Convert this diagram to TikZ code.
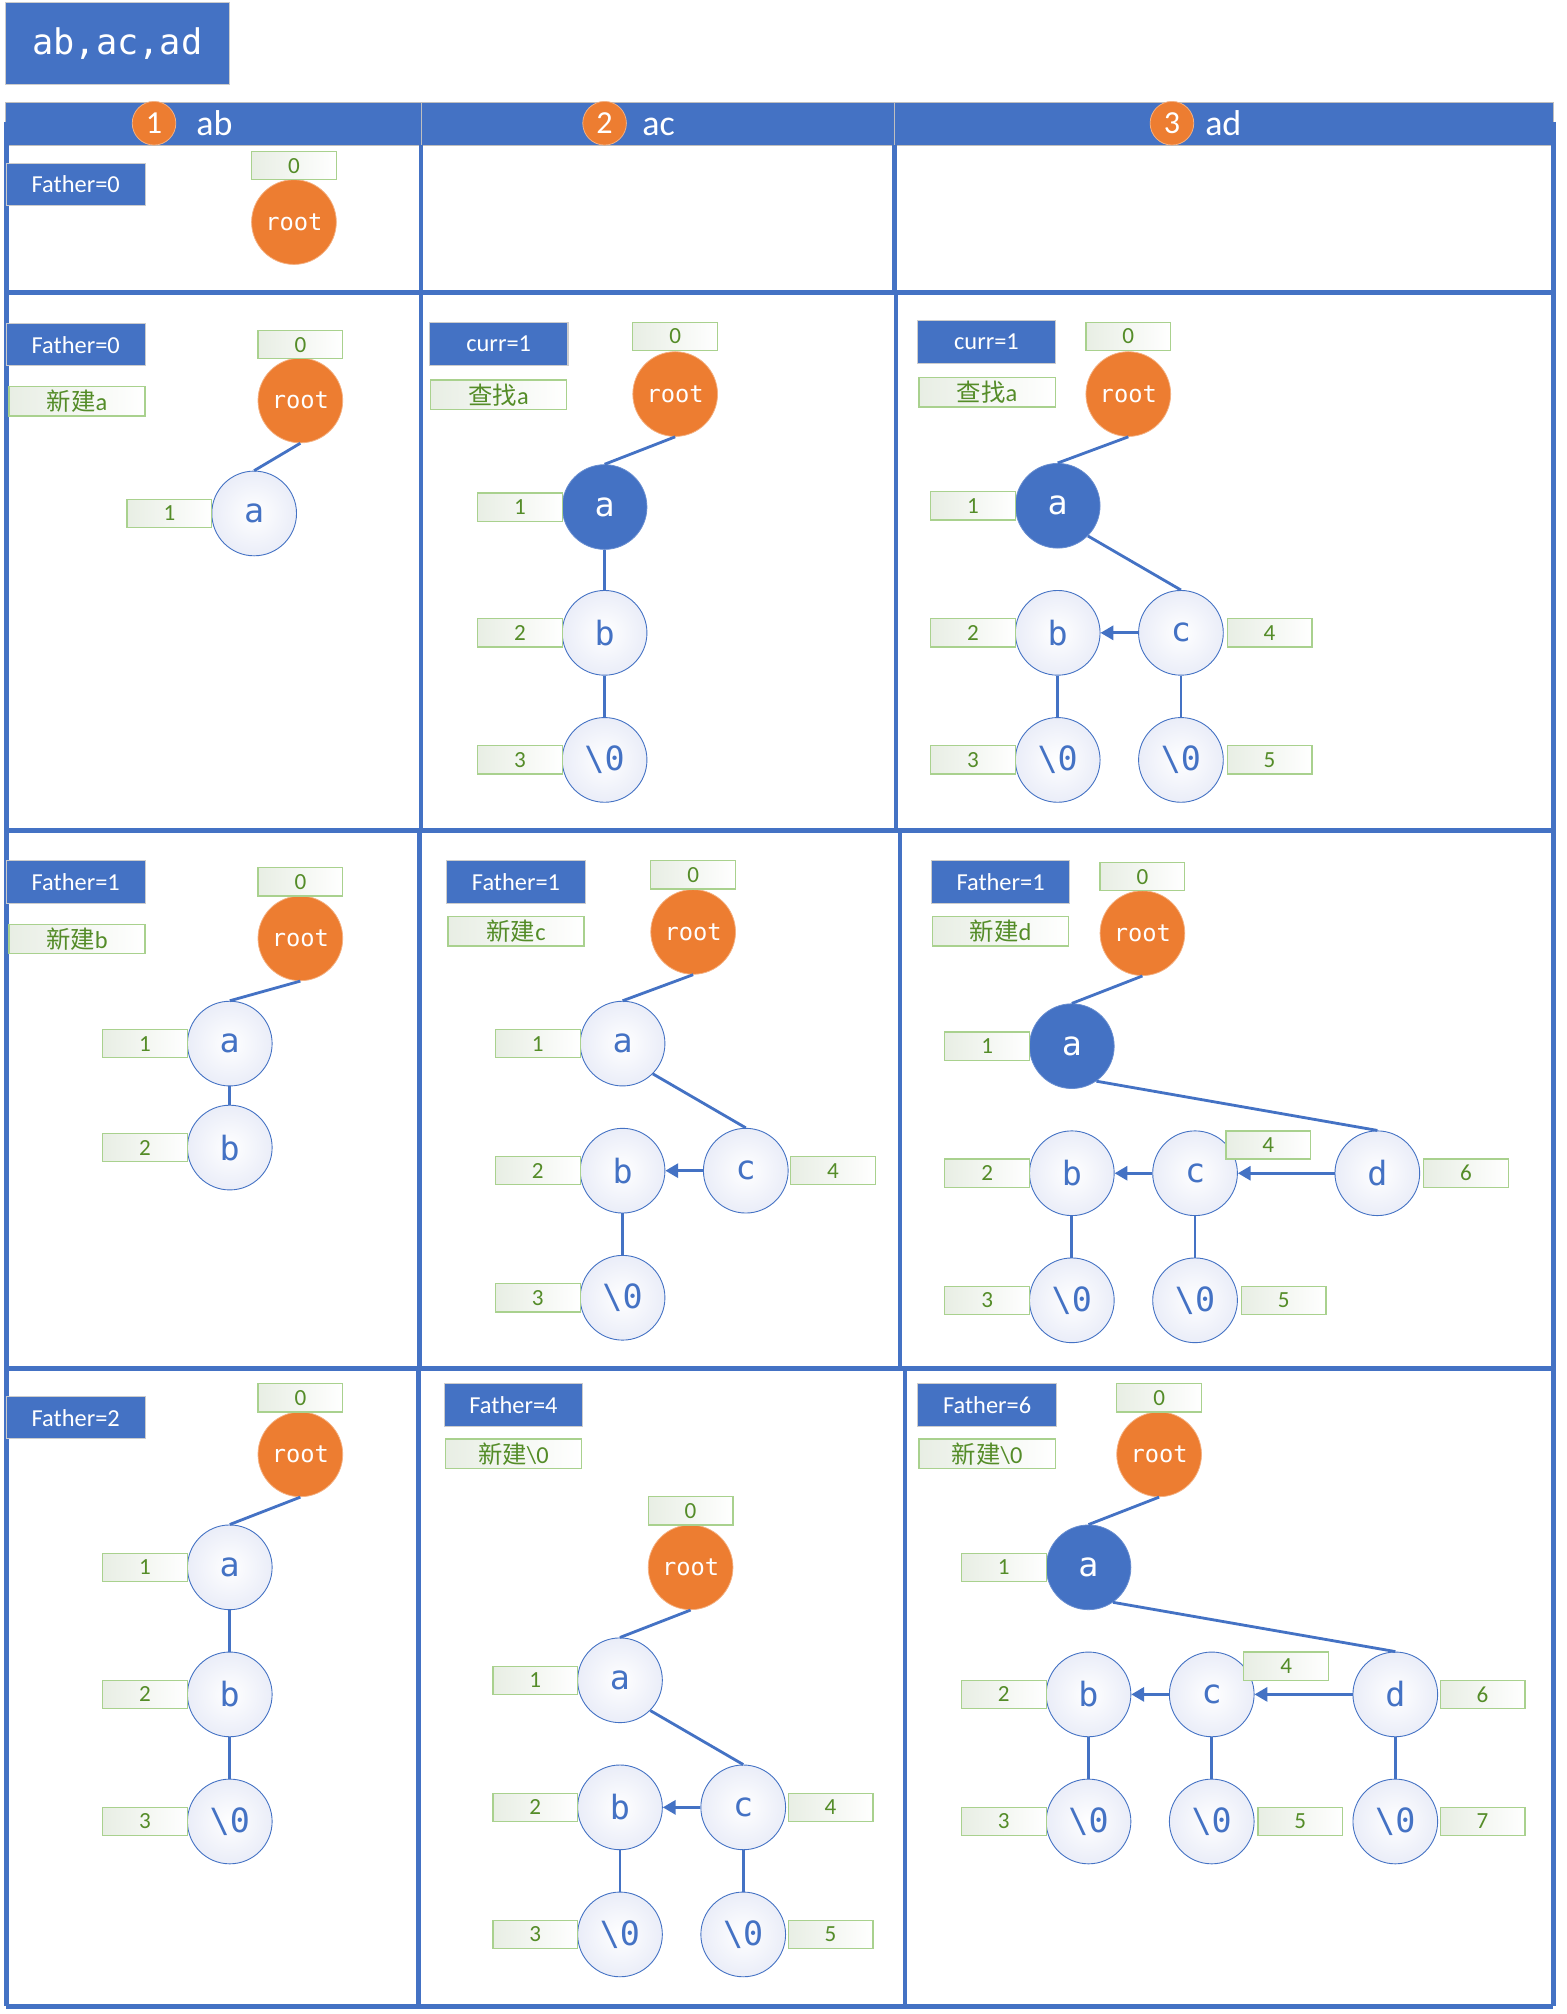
\documentclass[tikz,border=0pt]{standalone}
\usepackage{fontspec}
\setmainfont{Carlito}
\newfontfamily\monof{DejaVu Sans Mono}
\newfontfamily\cjk{Noto Sans CJK SC}
\usetikzlibrary{arrows.meta,shapes.geometric}
\definecolor{myblue}{RGB}{68,114,196}
\definecolor{myorange}{RGB}{237,125,49}
\definecolor{mygreen}{RGB}{84,140,40}
\definecolor{gline}{RGB}{169,209,142}
\definecolor{gfill}{RGB}{232,238,228}
\definecolor{nfill}{RGB}{234,237,248}
\tikzset{
  bbox/.style={rectangle,fill=myblue,draw=black!20,line width=0.8,text=white,minimum width=108,minimum height=33,inner sep=0,font=\fontsize{19}{21}\selectfont},
  gbox/.style={rectangle,left color=gfill,right color=white,draw=gline,line width=1,text=mygreen,minimum width=66,minimum height=22,inner sep=0,font=\fontsize{18}{20}\selectfont},
  cbox/.style={gbox,minimum width=106,minimum height=23,font=\fontsize{19}{21}\selectfont},
  rootn/.style={circle,fill=myorange,draw=myorange!60!white,line width=0.6,minimum size=66,inner sep=0,text=white,font=\monof\fontsize{18.5}{20}\selectfont},
  wn/.style={circle,inner color=white,outer color=nfill,draw=myblue,line width=0.7,minimum size=66,inner sep=0,text=myblue,font=\monof\fontsize{26}{28}\selectfont},
  bn/.style={circle,fill=myblue,draw=myblue!80!white,line width=0.6,minimum size=66,inner sep=0,text=white,font=\monof\fontsize{26}{28}\selectfont},
  edge/.style={draw=myblue,line width=2.2},
  arr/.style={edge,-{Triangle[length=10,width=11]}},
  grid/.style={draw=myblue,line width=3.6},
  hcirc/.style={circle,fill=myorange,draw=myorange!60!white,line width=0.6,minimum size=34,inner sep=0,text=white,font=\fontsize{25}{27}\selectfont},
  htext/.style={text=white,font=\fontsize{28}{30}\selectfont,inner sep=0,anchor=base},
}
\newcommand\zero{\textbackslash 0}
\begin{document}
\begin{tikzpicture}[x=1pt,y=-1pt]
\useasboundingbox (0,0) rectangle (1220,1569);
% title
\node[rectangle,fill=myblue,draw=black!20,line width=0.8,minimum width=175,minimum height=64,inner sep=0,text=white,font=\monof\fontsize{27.5}{29}\selectfont] (title) at (91.5,34) {ab,ac,ad};
% header
\fill[myblue] (4,80) rectangle (1210,113);
\draw[black!25,line width=0.8] (4,80) rectangle (1210,113);
\draw[black!25,line width=0.8] (328,80) -- (328,113);
\draw[black!25,line width=0.8] (697,80) -- (697,113);
\node[hcirc] (h1) at (120,96) {1};
\node[htext] (h1t) at (167,105.5) {ab};
\node[hcirc] (h2) at (471,96) {2};
\node[htext] (h2t) at (513,105.5) {ac};
\node[hcirc] (h3) at (913,96) {3};
\node[htext] (h3t) at (953,105.5) {ad};
% grid
\draw[grid] (5,95) -- (5,1563);
\draw[grid] (1210,95) -- (1210,1563);
\draw[grid] (5,228) -- (1210,228);
\draw[grid] (5,647) -- (1210,647);
\draw[grid] (5,1066) -- (1210,1066);
\draw[grid] (5,1563) -- (1210,1563);
\draw[grid] (328,113) -- (328,228);
\draw[grid] (697,113) -- (697,228);
\draw[grid] (328,228) -- (328,647);
\draw[grid] (698,228) -- (698,647);
\draw[grid] (327,647) -- (327,1066);
\draw[grid] (701,647) -- (701,1066);
\draw[grid] (326,1066) -- (326,1563);
\draw[grid] (705,1066) -- (705,1563);

% ===== Row 1, col 1
\node[bbox] (f11) at (59,143.5) {Father=0};
\node[rootn] (r11) at (229,173) {root};
\node[gbox] (n11r) at (229,129) {0};

% ===== Row 2, col 1
\node[bbox] (f21) at (59,268.5) {Father=0};
\node[cbox] (t21) at (60,312.5) {{\cjk 新建}a};
\node[rootn] (r21) at (234,312) {root};
\node[gbox] (n21r) at (234,268.5) {0};
\node[wn] (a21) at (198,400) {a};
\node[gbox] (n21a) at (132,400) {1};
\draw[edge] (r21.south) -- (a21.north);

% ===== Row 2, col 2
\node[bbox] (f22) at (388.5,268) {curr=1};
\node[cbox] (t22) at (388.5,307.5) {{\cjk 查找}a};
\node[rootn] (r22) at (526,307) {root};
\node[gbox] (n22r) at (526,262) {0};
\node[bn] (a22) at (471,395) {a};
\node[gbox] (n22a) at (405,395) {1};
\node[wn] (b22) at (471,493) {b};
\node[gbox] (n22b) at (405,493) {2};
\node[wn] (z22) at (471,592) {\zero};
\node[gbox] (n22z) at (405,592) {3};
\draw[edge] (r22.south) -- (a22.north);
\draw[edge] (a22.south) -- (b22.north);
\draw[edge] (b22.south) -- (z22.north);

% ===== Row 2, col 3
\node[bbox] (f23) at (768.5,266.5) {curr=1};
\node[cbox] (t23) at (769,305.5) {{\cjk 查找}a};
\node[rootn] (r23) at (879,307) {root};
\node[gbox] (n23r) at (879,262) {0};
\node[bn] (a23) at (824,394) {a};
\node[gbox] (n23a) at (758,394) {1};
\node[wn] (b23) at (824,493) {b};
\node[gbox] (n23b) at (758,493) {2};
\node[wn] (c23) at (920,493) {c};
\node[gbox] (n23c) at (989,493) {4};
\node[wn] (zb23) at (824,592) {\zero};
\node[gbox] (n23zb) at (758,592) {3};
\node[wn] (zc23) at (920,592) {\zero};
\node[gbox] (n23zc) at (989,592) {5};
\draw[edge] (r23.south) -- (a23.north);
\draw[edge] (a23.-45) -- (c23.north);
\draw[arr] (c23.west) -- (b23.east);
\draw[edge] (b23.south) -- (zb23.north);
\draw[edge] (c23.south) -- (zc23.north);

% ===== Row 3, col 1
\node[bbox] (f31) at (59,687) {Father=1};
\node[cbox] (t31) at (60,731.5) {{\cjk 新建}b};
\node[rootn] (r31) at (234,731) {root};
\node[gbox] (n31r) at (234,687) {0};
\node[wn] (a31) at (179,813) {a};
\node[gbox] (n31a) at (113,813) {1};
\node[wn] (b31) at (179,894) {b};
\node[gbox] (n31b) at (113,894) {2};
\draw[edge] (r31.south) -- (a31.north);
\draw[edge] (a31.south) -- (b31.north);

% ===== Row 3, col 2
\node[bbox] (f32) at (402,687) {Father=1};
\node[cbox] (t32) at (402,725.5) {{\cjk 新建}c};
\node[rootn] (r32) at (540,726) {root};
\node[gbox] (n32r) at (540,681.5) {0};
\node[wn] (a32) at (485,813) {a};
\node[gbox] (n32a) at (419,813) {1};
\node[wn] (b32) at (485,912) {b};
\node[gbox] (n32b) at (419,912) {2};
\node[wn] (c32) at (581,912) {c};
\node[gbox] (n32c) at (649,912) {4};
\node[wn] (zb32) at (485,1011) {\zero};
\node[gbox] (n32zb) at (419,1011) {3};
\draw[edge] (r32.south) -- (a32.north);
\draw[edge] (a32.-45) -- (c32.north);
\draw[arr] (c32.west) -- (b32.east);
\draw[edge] (b32.south) -- (zb32.north);

% ===== Row 3, col 3
\node[bbox] (f33) at (779.5,687) {Father=1};
\node[cbox] (t33) at (779.5,725.5) {{\cjk 新建}d};
\node[rootn] (r33) at (890,727) {root};
\node[gbox] (n33r) at (890,683) {0};
\node[bn] (a33) at (835,815) {a};
\node[gbox] (n33a) at (769,815) {1};
\node[wn] (b33) at (835,914) {b};
\node[gbox] (n33b) at (769,914) {2};
\node[wn] (c33) at (931,914) {c};
\node[wn] (d33) at (1073,914) {d};
\node[gbox] (n33d) at (1142,914) {6};
\node[wn] (zb33) at (835,1013) {\zero};
\node[gbox] (n33zb) at (769,1013) {3};
\node[wn] (zc33) at (931,1013) {\zero};
\node[gbox] (n33zc) at (1000,1013) {5};
\draw[edge] (r33.south) -- (a33.north);
\draw[edge] (a33.-55) -- (d33.north);
\draw[arr] (d33.west) -- (c33.east);
\draw[arr] (c33.west) -- (b33.east);
\draw[edge] (b33.south) -- (zb33.north);
\draw[edge] (c33.south) -- (zc33.north);
\node[gbox] (n33c) at (988,892) {4};

% ===== Row 4, col 1
\node[bbox] (f41) at (59,1104.5) {Father=2};
\node[rootn] (r41) at (234,1133) {root};
\node[gbox] (n41r) at (234,1089) {0};
\node[wn] (a41) at (179,1221) {a};
\node[gbox] (n41a) at (113,1221) {1};
\node[wn] (b41) at (179,1320) {b};
\node[gbox] (n41b) at (113,1320) {2};
\node[wn] (z41) at (179,1419) {\zero};
\node[gbox] (n41z) at (113,1419) {3};
\draw[edge] (r41.south) -- (a41.north);
\draw[edge] (a41.south) -- (b41.north);
\draw[edge] (b41.south) -- (z41.north);

% ===== Row 4, col 2
\node[bbox] (f42) at (400,1094.5) {Father=4};
\node[cbox] (t42) at (400,1132.5) {{\cjk 新建}\zero};
\node[rootn] (r42) at (538,1221) {root};
\node[gbox] (n42r) at (538,1177) {0};
\node[wn] (a42) at (483,1309) {a};
\node[gbox] (n42a) at (417,1309) {1};
\node[wn] (b42) at (483,1408) {b};
\node[gbox] (n42b) at (417,1408) {2};
\node[wn] (c42) at (579,1408) {c};
\node[gbox] (n42c) at (647,1408) {4};
\node[wn] (zb42) at (483,1507) {\zero};
\node[gbox] (n42zb) at (417,1507) {3};
\node[wn] (zc42) at (579,1507) {\zero};
\node[gbox] (n42zc) at (647,1507) {5};
\draw[edge] (r42.south) -- (a42.north);
\draw[edge] (a42.-45) -- (c42.north);
\draw[arr] (c42.west) -- (b42.east);
\draw[edge] (b42.south) -- (zb42.north);
\draw[edge] (c42.south) -- (zc42.north);

% ===== Row 4, col 3
\node[bbox] (f43) at (769,1094.5) {Father=6};
\node[cbox] (t43) at (769,1132.5) {{\cjk 新建}\zero};
\node[rootn] (r43) at (903,1133) {root};
\node[gbox] (n43r) at (903,1089) {0};
\node[bn] (a43) at (848,1221) {a};
\node[gbox] (n43a) at (782,1221) {1};
\node[wn] (b43) at (848,1320) {b};
\node[gbox] (n43b) at (782,1320) {2};
\node[wn] (c43) at (944,1320) {c};
\node[wn] (d43) at (1087,1320) {d};
\node[gbox] (n43d) at (1155,1320) {6};
\node[wn] (zb43) at (848,1419) {\zero};
\node[gbox] (n43zb) at (782,1419) {3};
\node[wn] (zc43) at (944,1419) {\zero};
\node[gbox] (n43zc) at (1013,1419) {5};
\node[wn] (zd43) at (1087,1419) {\zero};
\node[gbox] (n43zd) at (1155,1419) {7};
\draw[edge] (r43.south) -- (a43.north);
\draw[edge] (a43.-55) -- (d43.north);
\draw[arr] (d43.west) -- (c43.east);
\draw[arr] (c43.west) -- (b43.east);
\draw[edge] (b43.south) -- (zb43.north);
\draw[edge] (c43.south) -- (zc43.north);
\draw[edge] (d43.south) -- (zd43.north);
\node[gbox] (n43c) at (1002,1298) {4};
\end{tikzpicture}
\end{document}
